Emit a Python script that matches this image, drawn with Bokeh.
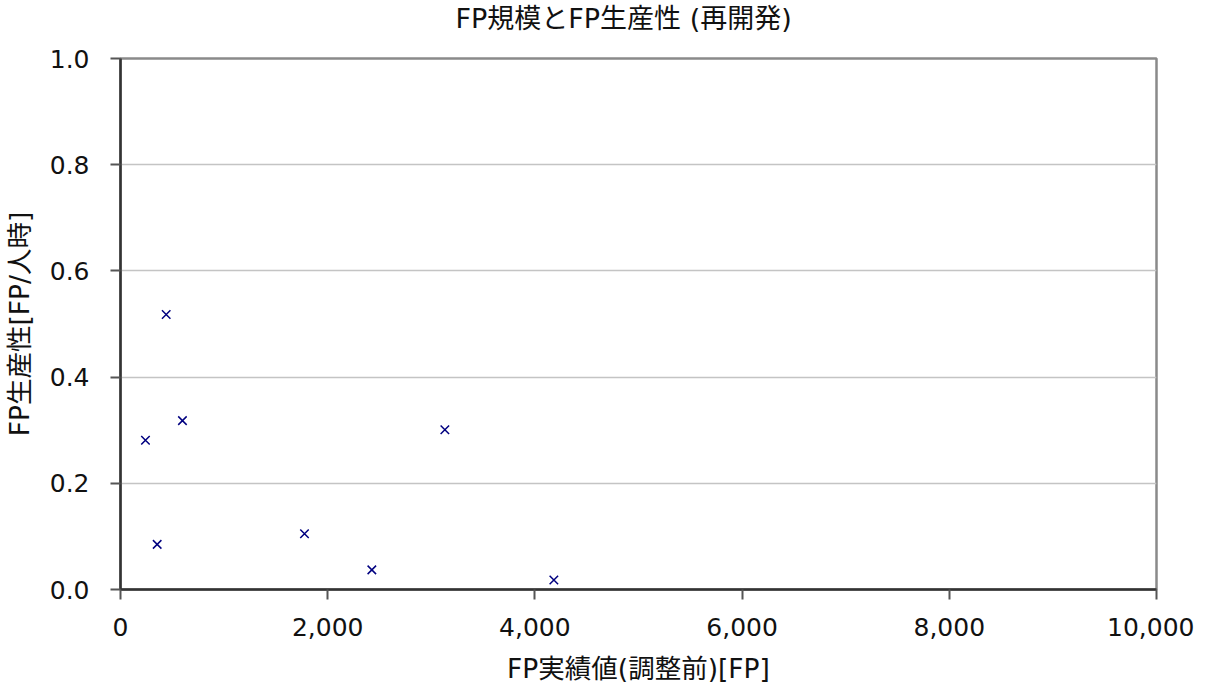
from bokeh.plotting import figure
from bokeh.models import ColumnDataSource, NumeralTickFormatter, FixedTicker, Range1d, Title
from bokeh.embed import file_html
from bokeh.resources import INLINE

# Data
fp_size = [241, 354, 441, 598, 1776, 2426, 3131, 4183]
productivity = [0.281, 0.085, 0.518, 0.318, 0.105, 0.037, 0.301, 0.018]
x_ticks = [0, 2000, 4000, 6000, 8000, 10000]
y_ticks = [0.0, 0.2, 0.4, 0.6, 0.8, 1.0]

title_text = "FP規模とFP生産性 (再開発)"
x_label = "FP実績値(調整前)[FP]"
y_label = "FP生産性[FP/人時]"

FONT = "DejaVu Sans, Noto Sans CJK JP"

src = ColumnDataSource(dict(x=fp_size, y=productivity))

p = figure(width=1194, height=686, output_backend="svg", toolbar_location=None,
           x_range=Range1d(0, 10000), y_range=Range1d(0, 1.0),
           min_border_left=120, min_border_right=38, min_border_top=58, min_border_bottom=95,
           title=title_text)

p.scatter("x", "y", source=src, marker="x", size=12, line_color="#000080", line_width=1.5)

# spacer between the title and the plot frame
spacer = Title(text=" ", text_font_size="1px", standoff=22)
p.add_layout(spacer, "above")

p.title.align = "left"
p.title.offset = 335
p.title.text_font = FONT
p.title.text_font_size = "27px"
p.title.text_font_style = "normal"
p.title.text_color = "#111111"
p.title.standoff = 0

p.outline_line_color = "#8a8a8a"
p.outline_line_width = 2.5
p.background_fill_color = "white"
p.border_fill_color = "white"

p.xgrid.grid_line_color = None
p.ygrid.grid_line_color = "#c4c4c4"
p.ygrid.grid_line_width = 1.5

p.xaxis.ticker = FixedTicker(ticks=x_ticks)
p.yaxis.ticker = FixedTicker(ticks=y_ticks)
p.xaxis.formatter = NumeralTickFormatter(format="0,0")
p.yaxis.formatter = NumeralTickFormatter(format="0.0")

for ax in (p.xaxis, p.yaxis):
    ax.axis_line_color = "#333333"
    ax.axis_line_width = 2.5
    ax.major_tick_line_color = "#555555"
    ax.major_tick_line_width = 2
    ax.major_tick_in = 0
    ax.major_tick_out = 10
    ax.minor_tick_line_color = None
    ax.major_label_text_font = FONT
    ax.major_label_text_font_size = "25px"
    ax.major_label_text_color = "#111111"
    ax.axis_label_text_font = FONT
    ax.axis_label_text_font_size = "26.5px"
    ax.axis_label_text_font_style = "normal"
    ax.axis_label_text_color = "#111111"

p.xaxis.axis_label = x_label
p.yaxis.axis_label = y_label
p.xaxis.major_label_standoff = 18
p.yaxis.major_label_standoff = 21
p.xaxis.axis_label_standoff = 14
p.yaxis.axis_label_standoff = 12

open("out.html", "w").write(file_html(p, INLINE))
